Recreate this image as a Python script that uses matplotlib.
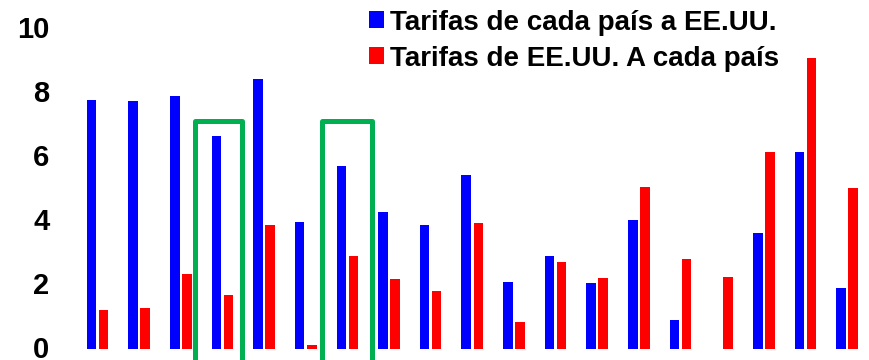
import numpy as np
import matplotlib.pyplot as plt
import matplotlib.transforms as mtransforms
from matplotlib.patches import Rectangle

plt.rcParams['font.family'] = ['Liberation Sans', 'DejaVu Sans']
plt.rcParams['font.weight'] = 'bold'

# Values
tarifas_pais_a_eeuu = [7.79, 7.73, 7.9, 6.65, 8.43, 3.97, 5.71, 4.27, 3.86, 5.44,
                       2.08, 2.91, 2.07, 4.04, 0.89, 0.0, 3.62, 6.16, 1.9]
tarifas_eeuu_a_pais = [1.2, 1.29, 2.33, 1.69, 3.88, 0.12, 2.9, 2.19, 1.82, 3.92,
                       0.83, 2.7, 2.2, 5.05, 2.8, 2.25, 6.16, 9.1, 5.04]
yticks = [0, 2, 4, 6, 8, 10]
labels = ["Tarifas de cada país a EE.UU.", "Tarifas de EE.UU. A cada país"]
# highlighted groups (green boxes)
highlight = [(2.35, 3.48), (5.40, 6.60)]

x = np.arange(len(tarifas_pais_a_eeuu))
w = 0.23

fig = plt.figure(figsize=(8.7, 3.6), dpi=100)
ax = fig.add_axes([74.6 / 870, 0.031, 1 - 74.6 / 870, 0.889])

ax.bar(x - 0.145, tarifas_pais_a_eeuu, w, color='#0000FF', label=labels[0], linewidth=0)
ax.bar(x + 0.145, tarifas_eeuu_a_pais, w, color='#FF0000', label=labels[1], linewidth=0)

for x0, x1 in highlight:
    ax.add_patch(Rectangle((x0, -0.6), x1 - x0, 7.13 + 0.6, fill=False,
                           edgecolor='#00B050', linewidth=3.6, clip_on=False,
                           joinstyle='round'))

ax.set_xlim(-0.55, len(x) - 0.45)
ax.set_ylim(0, 10)
ax.set_yticks(yticks)
ax.set_yticklabels([str(t) for t in yticks], fontsize=21, fontweight='bold')
ax.tick_params(axis='y', length=0, pad=18)
ax.set_xticks([])
for s in ax.spines.values():
    s.set_visible(False)

# nudge tick labels up a little so the "0" is not clipped
shift = mtransforms.ScaledTranslation(0, 2 / 100, fig.dpi_scale_trans)
for lab in ax.get_yticklabels():
    lab.set_transform(lab.get_transform() + shift)

ax.legend(loc='upper left', bbox_to_anchor=(363 / 870, 1 - 4 / 360), bbox_transform=fig.transFigure,
          frameon=False, prop={'size': 20, 'weight': 'bold'}, handlelength=0.55,
          handleheight=0.55, handletextpad=0.22, borderpad=0.2, labelspacing=0.36,
          borderaxespad=0)

fig.savefig('out.png', dpi=100)
